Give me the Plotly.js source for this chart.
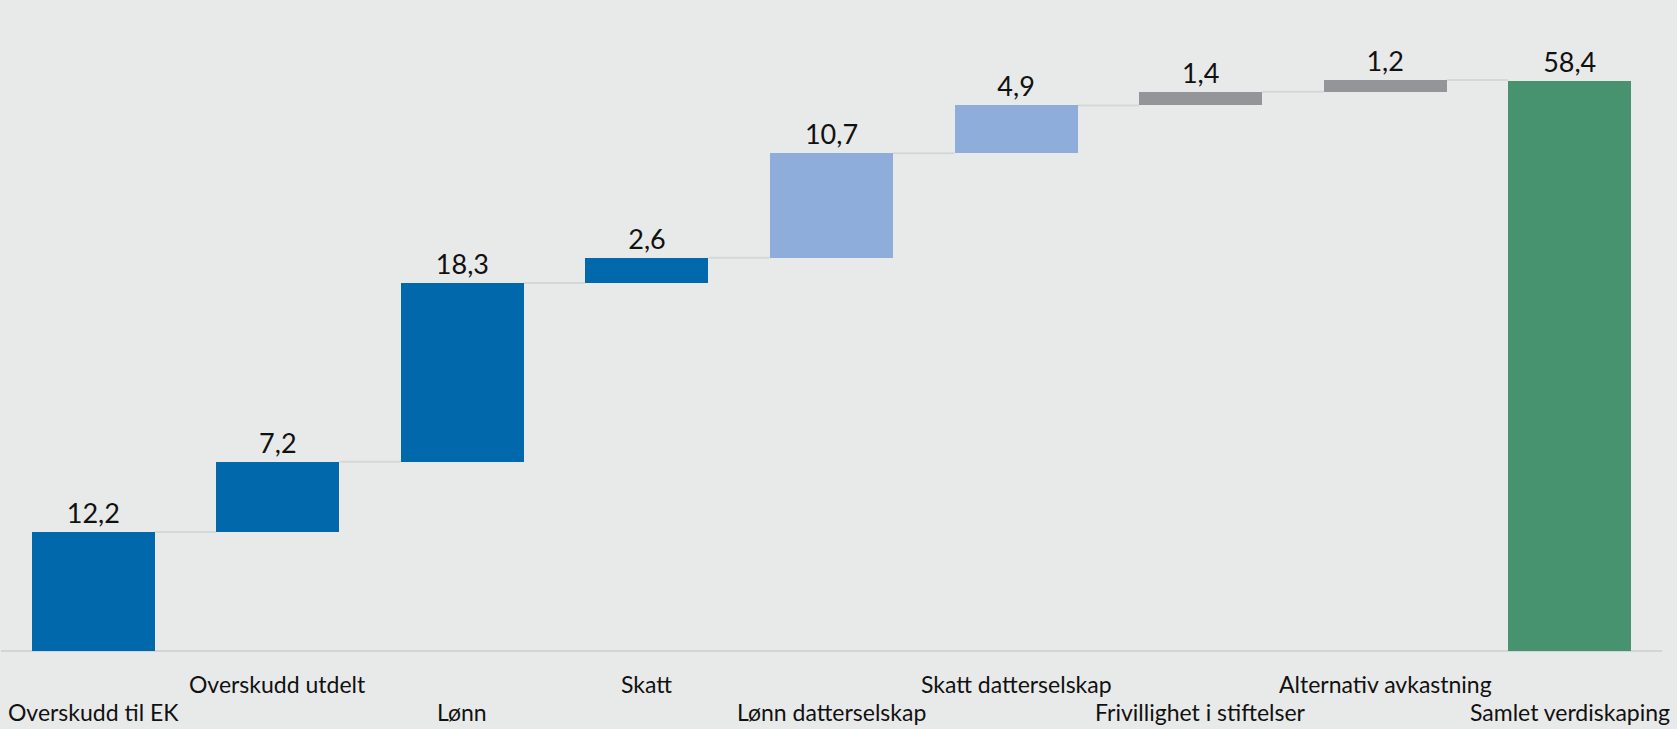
<!DOCTYPE html>
<html>
<head>
<meta charset="utf-8">
<script src="https://cdn.plot.ly/plotly-3.0.1.min.js"></script>
<style>
  html, body { margin: 0; padding: 0; background: #e8eae9; }
  #chart { width: 1677px; height: 729px; }
</style>
</head>
<body>
<div id="chart"></div>
<script>
// Verdiskaping, mrd kr
const categories = [
    'Overskudd til EK', 'Overskudd utdelt', 'Lønn', 'Skatt',
    'Lønn datterselskap', 'Skatt datterselskap', 'Frivillighet i stiftelser',
    'Alternativ avkastning', 'Samlet verdiskaping'
];
const values = [12.2, 7.2, 18.3, 2.6, 10.7, 4.9, 1.4, 1.2, 58.4];
const isTotal = [false, false, false, false, false, false, false, false, true];
const barColors = ['#0068ab', '#0068ab', '#0068ab', '#0068ab', '#8faddb', '#8faddb', '#939598', '#939598', '#47936f'];

const fontFamily = "Futura, 'Century Gothic', Lato, 'DejaVu Sans', sans-serif";

// cumulative bases for the floating bars
const bases = [];
const tops = [];
let running = 0;
for (let i = 0; i < values.length; i++) {
    if (isTotal[i]) {
        bases.push(0);
        tops.push(values[i]);
        running = values[i];
    } else {
        bases.push(running);
        running += values[i];
        tops.push(running);
    }
}

const xIdx = categories.map((c, i) => i);
const barWidth = 0.667;

const barTrace = {
    type: 'bar',
    x: xIdx,
    y: values,
    base: bases,
    width: barWidth,
    marker: { color: barColors, line: { width: 0 } },
    text: values.map(v => v.toFixed(1).replace('.', ',')),
    textposition: 'outside',
    textfont: { family: fontFamily, size: 27, color: '#111111' },
    cliponaxis: false,
    hoverinfo: 'skip'
};

// connector lines between bars
const shapes = [];
for (let i = 0; i < values.length - 1; i++) {
    shapes.push({
        type: 'line', xref: 'x', yref: 'y',
        x0: i + barWidth / 2, x1: i + 1 - barWidth / 2,
        y0: tops[i], y1: tops[i],
        line: { color: '#d6d8d7', width: 2 },
        layer: 'below'
    });
}

// category labels in two alternating rows
const annotations = categories.map((c, i) => ({
    x: i, y: 0, xref: 'x', yref: 'y',
    yshift: i % 2 === 0 ? -61 : -33,
    text: c,
    showarrow: false,
    xanchor: 'center', yanchor: 'middle',
    font: { family: fontFamily, size: 23, color: '#111111' }
}));

const layout = {
    width: 1677,
    height: 729,
    margin: { l: 1, r: 15, t: 0, b: 78 },
    paper_bgcolor: '#e8eae9',
    plot_bgcolor: '#e8eae9',
    showlegend: false,
    bargap: 0,
    xaxis: {
        range: [-0.5, 8.5],
        showticklabels: false,
        showgrid: false,
        zeroline: false,
        showline: false,
        ticks: ''
    },
    yaxis: {
        range: [0, 66.7],
        showticklabels: false,
        showgrid: false,
        zeroline: true,
        zerolinecolor: '#d3d5d4',
        zerolinewidth: 2,
        showline: false,
        ticks: ''
    },
    shapes: shapes,
    annotations: annotations,
    font: { family: fontFamily }
};

Plotly.newPlot('chart', [barTrace], layout, { displayModeBar: false, staticPlot: true });
</script>
</body>
</html>
